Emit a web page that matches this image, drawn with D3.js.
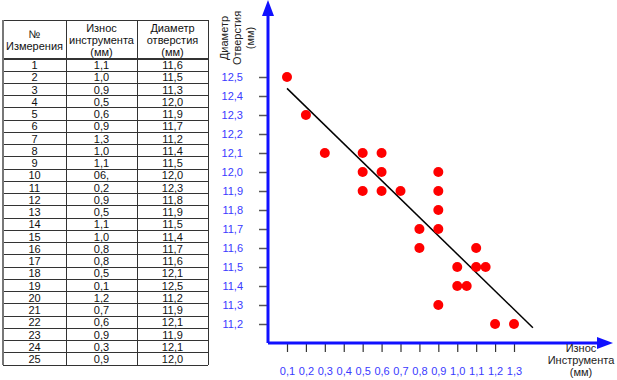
<!DOCTYPE html>
<html>
<head>
<meta charset="utf-8">
<script src="https://cdn.jsdelivr.net/npm/d3@7"></script>
<style>
  body { margin: 0; background: #fff; }
  svg { display: block; font-family: "Liberation Sans", Arial, sans-serif; }
</style>
</head>
<body>
<script>
// table data (as printed)
const measureNo = d3.range(1, 26).map(String);
const wearText = ["1,1", "1,0", "0,9", "0,5", "0,6", "0,9", "1,3", "1,0", "1,1", "06,", "0,2", "0,9", "0,5",
  "1,1", "1,0", "0,8", "0,8", "0,5", "0,1", "1,2", "0,7", "0,6", "0,9", "0,3", "0,9"];
const diameter = [11.6, 11.5, 11.3, 12.0, 11.9, 11.7, 11.2, 11.4, 11.5, 12.0, 12.3, 11.8, 11.9,
  11.5, 11.4, 11.7, 11.6, 12.1, 12.5, 11.2, 11.9, 12.1, 11.9, 12.1, 12.0];
// wear as plotted (duplicates shifted a bit in the picture)
const wearPlot = [1.1, 1.0, 0.9, 0.5, 0.6, 0.9, 1.3, 1.0, 1.1, 0.6, 0.2, 0.9, 0.5,
  1.15, 1.05, 0.8, 0.8, 0.5, 0.1, 1.2, 0.7, 0.6, 0.9, 0.3, 0.9];
const xTicks = [0.1, 0.2, 0.3, 0.4, 0.5, 0.6, 0.7, 0.8, 0.9, 1.0, 1.1, 1.2, 1.3];
const yTicks = [11.2, 11.3, 11.4, 11.5, 11.6, 11.7, 11.8, 11.9, 12.0, 12.1, 12.2, 12.3, 12.4, 12.5];
const trendX = [0.1, 1.4];
const trendY = [12.44, 11.18];

const width = 617, height = 380;
const blue = "#1010ff";
const labelBlue = "#3a3aff";
const comma = (d) => d3.format(".1f")(d).replace(".", ",");

const svg = d3.select("body").append("svg")
  .attr("width", width)
  .attr("height", height)
  .attr("viewBox", [0, 0, width, height]);

// ---- table ----
const colX = [3, 66, 137, 208];
const headTop = 20, headBottom = 59, tableBottom = 365;
const rowY = d3.scaleBand(d3.range(25), [headBottom, tableBottom]);

const tbl = svg.append("g").attr("font-size", 11).attr("fill", "#111");

const headers = [["№", "Измерения"], ["Износ", "инструмента", "(мм)"], ["Диаметр", "отверстия", "(мм)"]];
headers.forEach((lines, c) => {
  const cx = (colX[c] + colX[c + 1]) / 2;
  const mid = (headTop + headBottom) / 2;
  lines.forEach((t, k) => {
    tbl.append("text")
      .attr("x", cx)
      .attr("y", mid + (k - (lines.length - 1) / 2) * 12 + 4)
      .attr("text-anchor", "middle")
      .text(t);
  });
});

const cols = [measureNo, wearText, diameter.map(comma)];
cols.forEach((vals, c) => {
  const cx = (colX[c] + colX[c + 1]) / 2;
  tbl.append("g").selectAll("text")
    .data(vals)
    .join("text")
    .attr("x", cx)
    .attr("y", (d, i) => rowY(i) + rowY.bandwidth() - 2)
    .attr("text-anchor", "middle")
    .text((d) => d);
});

const grid = svg.append("g").attr("stroke", "#333").attr("shape-rendering", "crispEdges");
grid.selectAll("line.h")
  .data(d3.range(26))
  .join("line")
  .attr("x1", colX[0]).attr("x2", colX[3])
  .attr("y1", (i) => (i < 25 ? rowY(i) : tableBottom))
  .attr("y2", (i) => (i < 25 ? rowY(i) : tableBottom))
  .attr("stroke-width", (i) => (i === 0 ? 2 : 1));
grid.append("line")
  .attr("x1", colX[0]).attr("x2", colX[3])
  .attr("y1", headTop).attr("y2", headTop);
grid.selectAll("line.v")
  .data(colX)
  .join("line")
  .attr("x1", (d) => d).attr("x2", (d) => d)
  .attr("y1", headTop).attr("y2", tableBottom)
  .attr("stroke", (d, i) => (i === 0 ? "#777" : "#333"))
  .attr("stroke-width", (d, i) => (i === 0 ? 2 : 1));

// ---- scatter chart ----
const x = d3.scaleLinear([0.1, 1.3], [287, 514]);
const y = d3.scaleLinear([11.2, 12.5], [324, 77]);
const originX = 268, originY = 343;

svg.append("g")
  .attr("transform", `translate(${originX},0)`)
  .call(d3.axisLeft(y).tickValues(yTicks).tickSize(9).tickPadding(16).tickFormat(comma))
  .call((g) => g.select(".domain").remove())
  .call((g) => g.selectAll(".tick line").attr("stroke", "#555").attr("stroke-width", 1.5))
  .call((g) => g.selectAll(".tick text")
    .attr("fill", labelBlue)
    .attr("font-size", 11)
    .attr("font-family", "Liberation Sans, Arial, sans-serif"));

svg.append("g")
  .attr("transform", `translate(0,${originY})`)
  .call(d3.axisBottom(x).tickValues(xTicks).tickSize(9).tickPadding(15).tickFormat(comma))
  .call((g) => g.select(".domain").remove())
  .call((g) => g.selectAll(".tick line").attr("stroke", "#333").attr("stroke-width", 1.2))
  .call((g) => g.selectAll(".tick text")
    .attr("fill", labelBlue)
    .attr("font-size", 11)
    .attr("font-family", "Liberation Sans, Arial, sans-serif"));

// axis lines with arrows
svg.append("path")
  .attr("d", `M${originX},${originY}V12M${originX},${originY}H598`)
  .attr("stroke", blue)
  .attr("stroke-width", 3)
  .attr("fill", "none");
svg.append("path")
  .attr("d", `M${originX},0L${originX - 6},16L${originX + 6},16Z`)
  .attr("fill", blue);
svg.append("path")
  .attr("d", `M613,${originY}L597,${originY - 6}L597,${originY + 6}Z`)
  .attr("fill", blue);

// axis titles
const yTitle = svg.append("text")
  .attr("transform", "translate(237,38) rotate(-90)")
  .attr("text-anchor", "middle")
  .attr("font-size", 11)
  .attr("fill", "#222");
["Диаметр", "Отверстия", "(мм)"].forEach((t, k) => {
  yTitle.append("tspan").attr("x", 0).attr("y", (k - 1) * 13 + 4).text(t);
});
const xTitle = svg.append("text")
  .attr("text-anchor", "middle")
  .attr("font-size", 11)
  .attr("fill", "#222");
["Износ", "Инструмента", "(мм)"].forEach((t, k) => {
  xTitle.append("tspan").attr("x", 581).attr("y", 352 + k * 12).text(t);
});

// trend line
svg.append("line")
  .attr("x1", x(trendX[0])).attr("y1", y(trendY[0]))
  .attr("x2", x(trendX[1])).attr("y2", y(trendY[1]))
  .attr("stroke", "#000")
  .attr("stroke-width", 1.5);

// points
svg.append("g")
  .attr("fill", "#ff0000")
  .selectAll("circle")
  .data(d3.range(diameter.length))
  .join("circle")
  .attr("cx", (i) => x(wearPlot[i]))
  .attr("cy", (i) => y(diameter[i]))
  .attr("r", 5);
</script>
</body>
</html>
